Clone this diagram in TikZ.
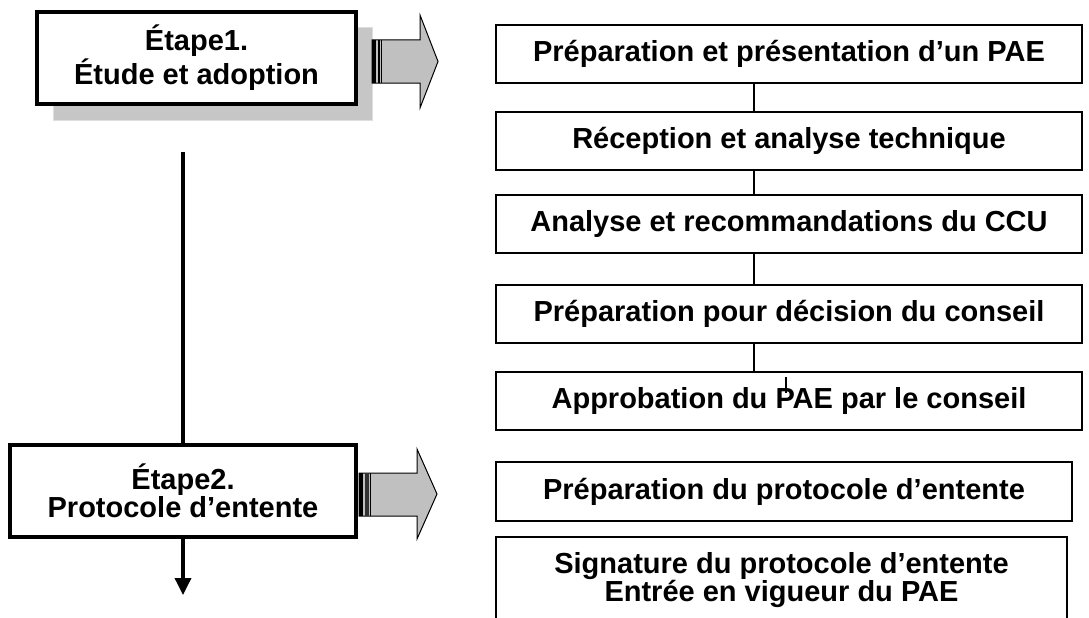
\documentclass[tikz,border=0pt]{standalone}
\usepackage{fontspec}
\setmainfont{Liberation Sans}
\usetikzlibrary{arrows.meta}
\definecolor{shadowgray}{RGB}{198,198,198}
\definecolor{shadowedge}{RGB}{222,222,222}
\definecolor{arrowgray}{RGB}{192,192,192}
\tikzset{
  stagebox/.style={draw=black, line width=3.5pt, fill=white, align=center, outer sep=0pt, inner sep=0pt,
    font=\fontsize{29}{34}\selectfont\bfseries},
  taskbox/.style={draw=black, line width=1.8pt, fill=white, align=center, outer sep=0pt, inner sep=0pt,
    font=\fontsize{29}{28}\selectfont\bfseries},
  conn/.style={draw=black, line width=1.3pt},
  mainline/.style={draw=black, line width=3.5pt},
  blockarrow/.style={fill=arrowgray, draw=black, line width=1pt, line join=miter},
}
\begin{document}
\begin{tikzpicture}[x=1pt, y=-1pt]
\clip (0,0) rectangle (1089,618);
\fill[white] (0,0) rectangle (1089,618);

% shadow of stage 1
\filldraw[fill=shadowgray, draw=shadowedge, line width=1pt] (53,28) rectangle (372,120);

% stage boxes
\node[stagebox, minimum width=319pt, minimum height=92pt] (e1) at (196.5,58) {Étape1.\\Étude et adoption};
\node[stagebox, minimum width=346pt, minimum height=92pt, font=\fontsize{29}{28}\selectfont\bfseries] (e2) at (183,491) {Étape2.\\Protocole d’entente};

% block arrows
\draw[blockarrow] (372,40) -- (420,40) -- (420,15) -- (438,61.5) -- (420,108) -- (420,83) -- (372,83) -- cycle;
\fill[black] (372,40) rectangle (376,83);
\fill[black] (377.5,40) rectangle (379.5,83);
\draw[black, line width=0.8pt] (381.5,40) -- (381.5,83);

\draw[blockarrow] (359,473) -- (417,473) -- (417,449) -- (437,494) -- (417,539) -- (417,516) -- (359,516) -- cycle;
\fill[black] (359,473) rectangle (363,516);
\fill[black!80] (365,473) rectangle (369,516);
\draw[black, line width=0.8pt] (370.5,473) -- (370.5,516);

% main vertical line
\coordinate (m1) at (183,152);
\coordinate (m2) at (183,595);
\draw[mainline] (m1) -- (e2.north);
\draw[mainline, -{Triangle[length=17pt,width=16pt]}] (e2.south) -- (m2);

% task boxes
\node[taskbox, minimum width=586pt, minimum height=58pt] (b1) at (789,54) {Préparation et présentation d’un PAE};
\node[taskbox, minimum width=586pt, minimum height=58pt] (b2) at (789,141) {Réception et analyse technique};
\node[taskbox, minimum width=586pt, minimum height=58pt] (b3) at (789,224) {Analyse et recommandations du CCU};
\node[taskbox, minimum width=586pt, minimum height=58pt] (b4) at (789,314) {Préparation pour décision du conseil};
\node[taskbox, minimum width=586pt, minimum height=58pt] (b5) at (789,401) {Approbation du PAE par le conseil};
\node[taskbox, minimum width=576pt, minimum height=59pt] (b6) at (784,491.5) {Préparation du protocole d’entente};
\node[taskbox, minimum width=571pt, minimum height=86pt] (b7) at (781.5,580) {Signature du protocole d’entente\\Entrée en vigueur du PAE};

% connectors
\draw[conn] ([xshift=-35pt]b1.south) -- ([xshift=-35pt]b2.north);
\draw[conn] ([xshift=-35pt]b2.south) -- ([xshift=-35pt]b3.north);
\draw[conn] ([xshift=-35pt]b3.south) -- ([xshift=-35pt]b4.north);
\draw[conn] ([xshift=-35pt]b4.south) -- ([xshift=-35pt]b5.north);
\coordinate (t1) at (786,377);
\coordinate (t2) at (786,393);
\draw[conn] (t1) -- (t2);
\end{tikzpicture}
\end{document}
